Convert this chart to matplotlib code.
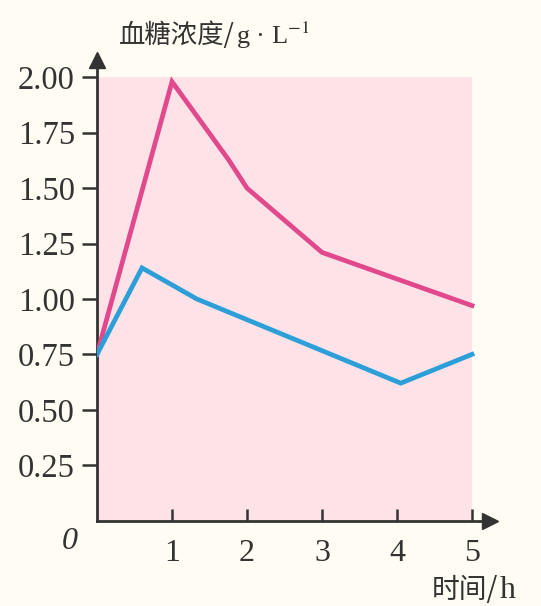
import matplotlib
matplotlib.use('Agg')
import matplotlib.pyplot as plt
import numpy as np

# blood glucose curves
hours_pink = [0, 1, 1.75, 2, 3, 4, 5]
glucose_pink = [0.75, 1.98, 1.63, 1.50, 1.21, 1.09, 0.97]
hours_blue = [0, 0.6, 1.33, 4.05, 5]
glucose_blue = [0.75, 1.14, 1.00, 0.62, 0.75]

x_ticks = [1, 2, 3, 4, 5]
y_ticks = [0.25, 0.50, 0.75, 1.00, 1.25, 1.50, 1.75, 2.00]

plt.rcParams['mathtext.fontset'] = 'stix'
ink = '#333333'

fig = plt.figure(figsize=(5.41, 6.06), dpi=100)
fig.patch.set_facecolor('#fffdf3')
ax = fig.add_axes([97 / 541, 1 - 520.6 / 606, 393 / 541, (520.6 - 60) / 606])
ax.set_facecolor('none')
ax.set_xlim(0, 5.24)
ax.set_ylim(0, 2.078)

# pink panel behind the curves
ax.fill_between([0, 5], 0, 2.0, color='#fde3e8', lw=0, zorder=0)

ax.plot(hours_pink, glucose_pink, color='#e2488c', lw=3.4, solid_joinstyle='miter', zorder=3)
ax.plot(hours_blue, glucose_blue, color='#2c9fd8', lw=3.4, solid_joinstyle='miter', zorder=3)

for s in ['top', 'right']:
    ax.spines[s].set_visible(False)
for s in ['left', 'bottom']:
    ax.spines[s].set_color(ink)
    ax.spines[s].set_linewidth(2)

# arrow heads
ax.plot(1, 0, '>', color=ink, ms=11, transform=ax.transAxes, clip_on=False)
ax.plot(0, 1, '^', color=ink, ms=11, transform=ax.transAxes, clip_on=False)

ax.set_xticks(x_ticks)
ax.set_xticklabels([str(t) for t in x_ticks], family='Liberation Serif', fontsize=23, color=ink)
ax.set_yticks(y_ticks)
ax.set_yticklabels(['%.2f' % t for t in y_ticks], family='Liberation Serif', fontsize=23.5, color=ink)
ax.tick_params(axis='x', direction='in', length=9, width=1.8, pad=13, color=ink)
ax.tick_params(axis='y', direction='out', length=11, width=1.8, pad=5, color=ink)

ax.text(-0.36, -0.095, '0', family='Liberation Serif', style='italic', fontsize=23,
        color=ink, ha='center', va='center', clip_on=False)

# y axis title: Chinese part, then the unit in serif
t1 = ax.text(0.29, 2.19, '血糖浓度/', family='Noto Sans CJK SC', fontsize=19,
             color=ink, ha='left', va='center', clip_on=False)
ax.annotate('g · L$^{-1}$', xy=(1, 0.5), xycoords=t1, xytext=(1, 0), textcoords='offset points',
            family='Liberation Serif', fontsize=19, color=ink, ha='left', va='center')

# x axis title
t2 = ax.text(4.47, -0.315, '时间/', family='Noto Sans CJK SC', fontsize=20,
             color=ink, ha='left', va='center', clip_on=False)
ax.annotate('h', xy=(1, 0.5), xycoords=t2, xytext=(1, 0), textcoords='offset points',
            family='Liberation Serif', fontsize=23, color=ink, ha='left', va='center')

fig.savefig('out.png', dpi=100, facecolor=fig.get_facecolor())
